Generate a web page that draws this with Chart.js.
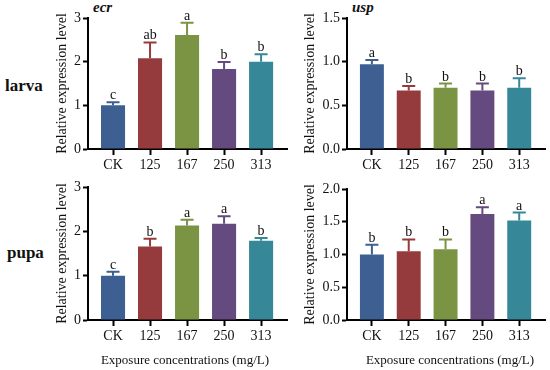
<!DOCTYPE html>
<html>
<head>
<meta charset="utf-8">
<script src="https://cdn.jsdelivr.net/npm/chart.js@4.4.0/dist/chart.umd.min.js"></script>
<style>
    html, body { margin: 0; padding: 0; background: #fff; }
    #wrap { position: relative; width: 550px; height: 370px; background: #fff; overflow: hidden; }
    #wrap canvas { position: absolute; }
    .txt { position: absolute; font-family: "Liberation Serif", "Times New Roman", serif; color: #111; white-space: nowrap; line-height: 1; }
    .row { font-weight: bold; font-size: 17px; }
    .gene { font-weight: bold; font-style: italic; font-size: 15px; }
    .xt { font-size: 13px; transform: translateX(-50%); }
</style>
</head>
<body>
<div id="wrap">
    <div class="txt gene" style="left:93px;top:0">ecr</div>
    <div class="txt gene" style="left:352px;top:0">usp</div>
    <div class="txt row" style="left:5px;top:77px">larva</div>
    <div class="txt row" style="left:7px;top:244px">pupa</div>
    <canvas id="ecrLarvaChart" width="240" height="185" style="left:50px;top:0"></canvas>
    <canvas id="uspLarvaChart" width="252" height="185" style="left:298px;top:0"></canvas>
    <canvas id="ecrPupaChart" width="240" height="190" style="left:50px;top:165px"></canvas>
    <canvas id="uspPupaChart" width="252" height="190" style="left:298px;top:165px"></canvas>
    <div class="txt xt" style="left:185px;top:353px">Exposure concentrations (mg/L)</div>
    <div class="txt xt" style="left:450px;top:353px">Exposure concentrations (mg/L)</div>
</div>
<script>
// Data
const categories = ['CK', '125', '167', '250', '313'];

const ecrLarva = [1.0, 2.08, 2.61, 1.83, 2.0];
const ecrLarvaErr = [0.07, 0.36, 0.28, 0.16, 0.17];
const ecrLarvaLetters = ['c', 'ab', 'a', 'b', 'b'];

const uspLarva = [0.97, 0.67, 0.70, 0.67, 0.70];
const uspLarvaErr = [0.05, 0.05, 0.05, 0.08, 0.11];
const uspLarvaLetters = ['a', 'b', 'b', 'b', 'b'];

const ecrPupa = [1.0, 1.66, 2.13, 2.17, 1.79];
const ecrPupaErr = [0.09, 0.17, 0.13, 0.17, 0.06];
const ecrPupaLetters = ['c', 'b', 'a', 'a', 'b'];

const uspPupa = [1.0, 1.05, 1.08, 1.62, 1.52];
const uspPupaErr = [0.15, 0.18, 0.15, 0.10, 0.12];
const uspPupaLetters = ['b', 'b', 'b', 'a', 'a'];

const barColors = ['#3d5f92', '#963b3d', '#7a9444', '#644a7e', '#368898'];
const serif = '"Liberation Serif", "Times New Roman", serif';

Chart.defaults.font.family = serif;
Chart.defaults.font.size = 14;
Chart.defaults.color = '#111';

// Upper error bars + significance letters
const errorBarPlugin = {
    id: 'errorBars',
    afterDatasetsDraw(chart, args, opts) {
        const ctx = chart.ctx;
        const yScale = chart.scales.y;
        const meta = chart.getDatasetMeta(0);
        ctx.save();
        meta.data.forEach((bar, i) => {
            const top = chart.data.datasets[0].data[i].y + opts.errors[i];
            const yTop = yScale.getPixelForValue(top);
            ctx.strokeStyle = barColors[i];
            ctx.lineWidth = 2;
            ctx.beginPath();
            ctx.moveTo(bar.x, bar.y);
            ctx.lineTo(bar.x, yTop);
            ctx.moveTo(bar.x - 6.5, yTop);
            ctx.lineTo(bar.x + 6.5, yTop);
            ctx.stroke();
            ctx.fillStyle = '#111';
            ctx.font = '14px ' + serif;
            ctx.textAlign = 'center';
            ctx.textBaseline = 'alphabetic';
            ctx.fillText(opts.letters[i], bar.x, yTop - 3);
        });
        ctx.restore();
    }
};

function makePanel(id, values, errors, letters, yMax, decimals, axisWidth, padTop, padRight, xHeight) {
    const ctx = document.getElementById(id);
    new Chart(ctx, {
        type: 'bar',
        data: {
            datasets: [{
                data: values.map((v, i) => ({ x: i, y: v })),
                backgroundColor: barColors,
                borderWidth: 0,
                barPercentage: 0.65,
                categoryPercentage: 1
            }]
        },
        options: {
            responsive: false,
            animation: false,
            layout: { padding: { top: padTop, right: padRight, left: 0, bottom: 0 } },
            plugins: {
                legend: { display: false },
                tooltip: { enabled: false },
                errorBars: { errors: errors, letters: letters }
            },
            scales: {
                x: {
                    type: 'linear',
                    offset: false,
                    min: -0.676,
                    max: 4.70,
                    afterBuildTicks: (scale) => {
                        scale.ticks = categories.map((c, i) => ({ value: i }));
                    },
                    afterFit: (scale) => { scale.height = xHeight; },
                    border: { display: true, color: '#000', width: 2 },
                    grid: { offset: false, drawOnChartArea: false, drawTicks: true, tickLength: 6, tickWidth: 2, tickColor: '#000' },
                    ticks: {
                        padding: 2,
                        maxRotation: 0,
                        autoSkip: false,
                        color: '#111',
                        callback: (v) => categories[v]
                    }
                },
                y: {
                    min: 0,
                    max: yMax,
                    afterFit: (scale) => { scale.width = axisWidth; },
                    border: { display: true, color: '#000', width: 2 },
                    grid: { drawOnChartArea: false, drawTicks: true, tickLength: 5, tickWidth: 2, tickColor: '#000' },
                    ticks: {
                        stepSize: decimals ? 0.5 : 1,
                        padding: 2,
                        color: '#111',
                        callback: (v) => v.toFixed(decimals)
                    },
                    title: {
                        display: true,
                        text: 'Relative expression level',
                        color: '#111',
                        font: { size: 14 },
                        padding: { top: 4, bottom: 0 }
                    }
                }
            }
        },
        plugins: [errorBarPlugin]
    });
}

makePanel('ecrLarvaChart', ecrLarva, ecrLarvaErr, ecrLarvaLetters, 3, 0, 38, 18, 3, 36);
makePanel('uspLarvaChart', uspLarva, uspLarvaErr, uspLarvaLetters, 1.5, 1, 49, 18, 5, 36);
makePanel('ecrPupaChart', ecrPupa, ecrPupaErr, ecrPupaLetters, 3, 0, 38, 22, 3, 35);
makePanel('uspPupaChart', uspPupa, uspPupaErr, uspPupaLetters, 2, 1, 49, 24, 5, 35);
</script>
</body>
</html>
